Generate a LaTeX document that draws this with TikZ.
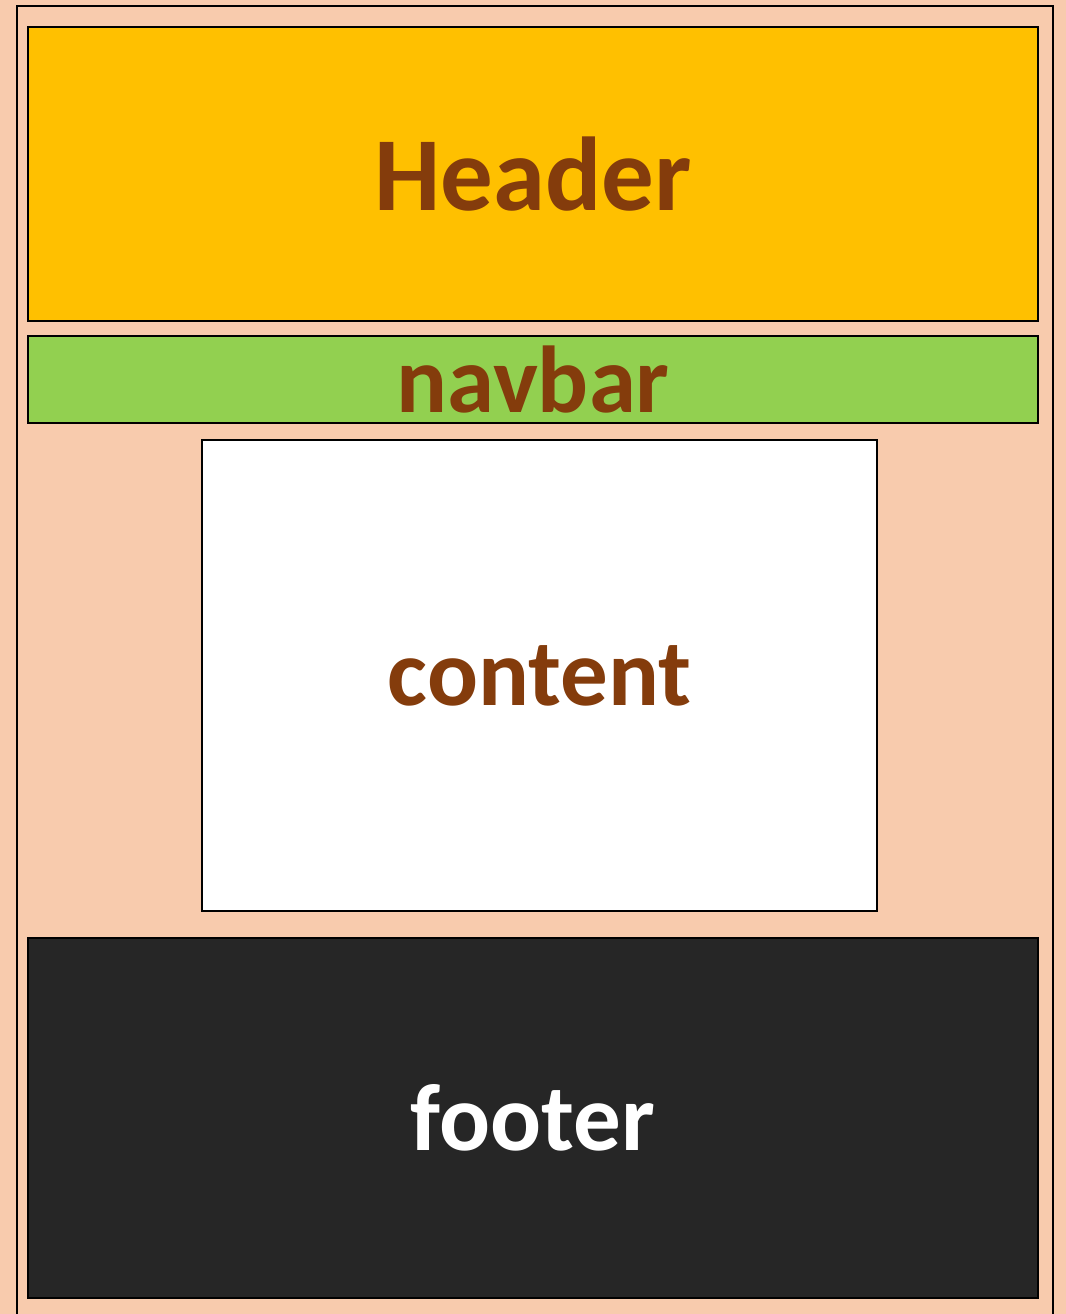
\documentclass[tikz,border=0pt]{standalone}
\usepackage{fontspec}
\setmainfont{Carlito}
\definecolor{peach}{HTML}{F8CBAD}
\definecolor{gold}{HTML}{FFC000}
\definecolor{leaf}{HTML}{92D050}
\definecolor{rust}{HTML}{843C0C}
\definecolor{coal}{HTML}{262626}
\tikzset{
	block/.style={draw, line width=1.3pt, inner sep=0pt, font=\fontsize{47.5}{57}\selectfont\bfseries, text=rust}
}

\begin{document}
\begin{tikzpicture}[x=0.5pt, y=-0.5pt]
	\useasboundingbox[fill=peach] (0,0) rectangle (1066,1314);
	\node[draw, line width=1.2pt, minimum width=518pt, minimum height=670pt, anchor=north west](page) at (16,5) {};
	\node[block, fill=gold, minimum width=505pt, minimum height=147pt, font=\fontsize{52.5}{63}\selectfont\bfseries](header) at (533,174) {Header};
	\node[block, fill=leaf, minimum width=505pt, minimum height=43.5pt](navbar) at (533,379.5) {navbar};
	\node[block, fill=white, minimum width=337.5pt, minimum height=235.5pt](content) at (539.5,675.5) {content};
	\node[block, fill=coal, text=white, minimum width=505pt, minimum height=180pt](footer) at (533,1118) {footer};
\end{tikzpicture}
\end{document}
